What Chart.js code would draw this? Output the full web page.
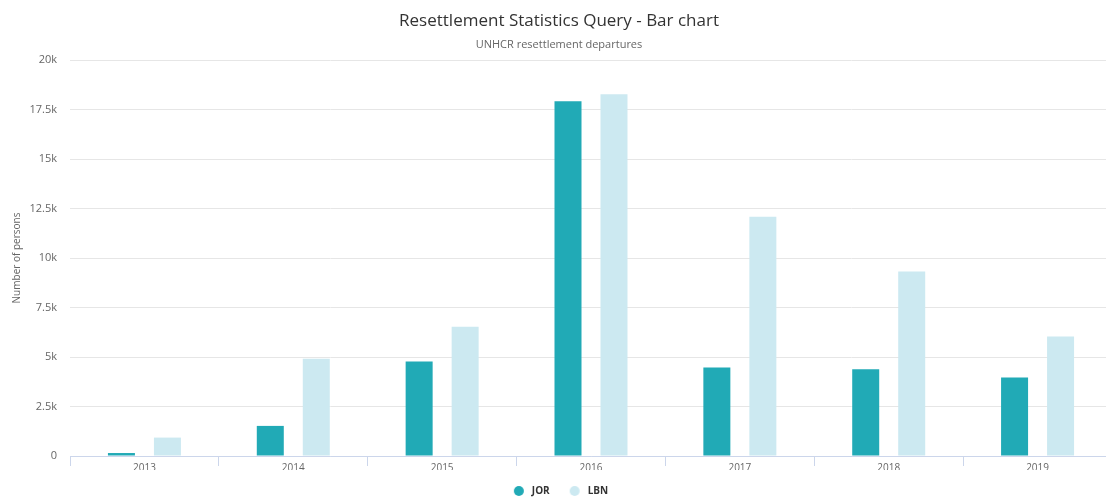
<!DOCTYPE html>
<html>
<head>
<meta charset="utf-8">
<script src="https://cdn.jsdelivr.net/npm/chart.js@4/dist/chart.umd.min.js"></script>
<style>
  html, body { margin: 0; padding: 0; background: #fff; overflow: hidden; }
  #wrap { width: 1120px; height: 506px; }
</style>
</head>
<body>
<div id="wrap"><canvas id="c" width="1120" height="506"></canvas></div>
<script>
const categories = ['2013', '2014', '2015', '2016', '2017', '2018', '2019'];
const jorValues = [150, 1520, 4770, 17920, 4470, 4380, 3970];
const lbnValues = [930, 4910, 6530, 18270, 12080, 9320, 6040];
const seriesNames = ['JOR', 'LBN'];
const seriesColors = ['#21aab6', '#cce9f1'];
const yTickValues = [0, 2500, 5000, 7500, 10000, 12500, 15000, 17500, 20000];
const yTickLabels = ['0', '2.5k', '5k', '7.5k', '10k', '12.5k', '15k', '17.5k', '20k'];

const FONT = "'Open Sans', 'DejaVu Sans', sans-serif";

// legend marker: a circle drawn on the left part of a small canvas
function markerImage(color) {
  const c = document.createElement('canvas');
  c.width = 17; c.height = 10;
  const g = c.getContext('2d');
  g.fillStyle = color;
  g.beginPath();
  g.arc(9, 5, 5, 0, Math.PI * 2);
  g.fill();
  return c;
}

new Chart(document.getElementById('c'), {
  type: 'bar',
  data: {
    labels: categories,
    datasets: [
      { label: seriesNames[0], data: jorValues, backgroundColor: seriesColors[0], borderWidth: 0,
        categoryPercentage: 0.618, barPercentage: 0.587 },
      { label: seriesNames[1], data: lbnValues, backgroundColor: seriesColors[1], borderWidth: 0,
        categoryPercentage: 0.618, barPercentage: 0.587 }
    ]
  },
  options: {
    responsive: false,
    animation: false,
    layout: { padding: { left: 6, right: 8, top: 0, bottom: 0 } },
    plugins: {
      tooltip: { enabled: false },
      title: {
        display: true,
        text: 'Resettlement Statistics Query - Bar chart',
        color: '#333333',
        font: { family: FONT, size: 17, weight: 'normal' },
        padding: { top: 11, bottom: 0 }
      },
      subtitle: {
        display: true,
        text: 'UNHCR resettlement departures',
        color: '#666666',
        font: { family: FONT, size: 11, weight: 'normal' },
        padding: { top: 7, bottom: 8.4 }
      },
      legend: {
        position: 'bottom',
        labels: {
          usePointStyle: true,
          pointStyleWidth: 17,
          boxHeight: 10,
          padding: 16,
          color: '#333333',
          font: { family: FONT, size: 10, weight: 'bold' },
          generateLabels: (chart) => {
            const items = Chart.defaults.plugins.legend.labels.generateLabels(chart);
            items.forEach((it, i) => { it.pointStyle = markerImage(seriesColors[i]); });
            return items;
          }
        }
      }
    },
    scales: {
      x: {
        offset: true,
        grid: { drawOnChartArea: false, drawTicks: true, tickLength: 10, color: '#ccd6eb', offset: true },
        border: { display: true, color: '#ccd6eb', width: 1 },
        ticks: { color: '#666666', font: { family: FONT, size: 10 }, padding: -4, maxRotation: 0 }
      },
      y: {
        min: 0,
        max: 20000,
        afterBuildTicks: (scale) => { scale.ticks = yTickValues.map(v => ({ value: v })); },
        afterFit: (scale) => { scale.width = 64; },
        grid: { color: '#e6e6e6', drawTicks: false },
        border: { display: false },
        ticks: {
          color: '#666666',
          font: { family: FONT, size: 11 },
          padding: 13,
          callback: (v) => { const i = yTickValues.indexOf(v); return i >= 0 ? yTickLabels[i] : ''; }
        },
        title: {
          display: true,
          text: 'Number of persons',
          color: '#666666',
          font: { family: FONT, size: 10 },
          padding: { top: 5, bottom: 0 }
        }
      }
    }
  }
});
</script>
</body>
</html>
